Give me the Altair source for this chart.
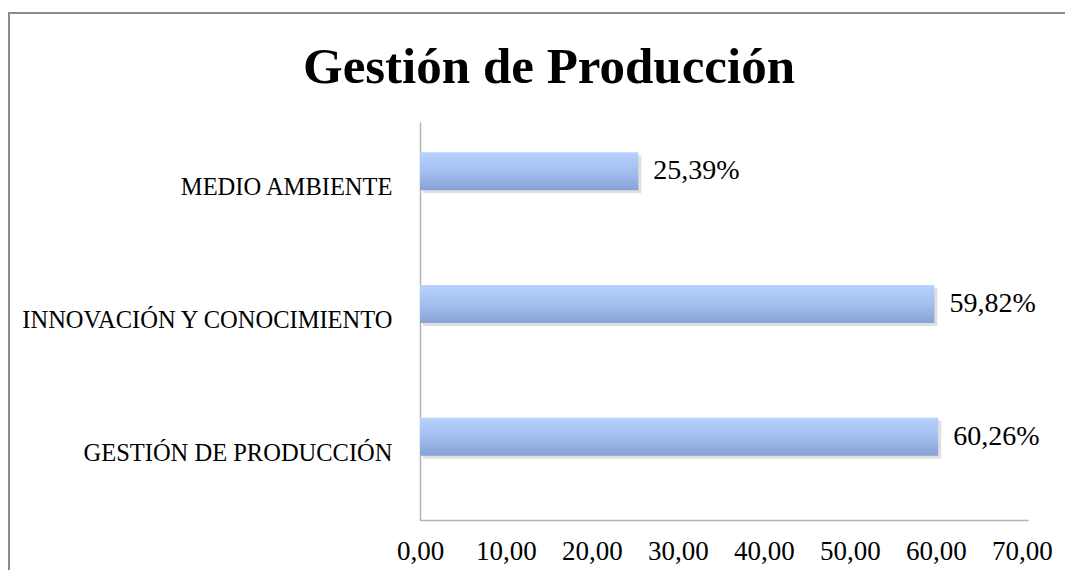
import altair as alt
import pandas as pd

categories = ["MEDIO AMBIENTE", "INNOVACIÓN Y CONOCIMIENTO", "GESTIÓN DE PRODUCCIÓN"]
values = [25.39, 59.82, 60.26]
x_ticks = [0, 10, 20, 30, 40, 50, 60, 70]
title_text = "Gestión de Producción"

df = pd.DataFrame({"cat": categories, "val": values})
title_df = pd.DataFrame({"t": [title_text]})
frame_df = pd.DataFrame({"k": [0]})

FONT = "Liberation Serif"
W, H = 608, 398
AXIS_COLOR = "#b3b3b3"

y_axis = alt.Axis(title=None, ticks=False, labelPadding=28, labelFontSize=24.5,
                  labelFont=FONT, labelColor="#000000", domainColor=AXIS_COLOR,
                  domainWidth=1.5, labelLimit=500, grid=False)
x_axis = alt.Axis(title=None, values=x_ticks, ticks=False, grid=False,
                  labelExpr="replace(format(datum.value, '.2f'), '.', ',')",
                  labelFontSize=27, labelFont=FONT, labelPadding=18,
                  labelColor="#000000", domainColor=AXIS_COLOR, domainWidth=1.5,
                  labelFlush=False)

x_enc = alt.X("val:Q", scale=alt.Scale(domain=[0, 70.7], nice=False, zero=True), axis=x_axis)
y_enc = alt.Y("cat:N", sort=categories, scale=alt.Scale(paddingInner=0, paddingOuter=0), axis=y_axis)

grad = alt.Gradient(
    gradient="linear",
    stops=[alt.GradientStop(color="#b8d2fd", offset=0),
           alt.GradientStop(color="#a3bff0", offset=0.5),
           alt.GradientStop(color="#87a2d5", offset=1)],
    x1=0, x2=0, y1=0, y2=1,
)

shadow = alt.Chart(df).mark_bar(color="#000000", opacity=0.12, height=38, yOffset=-14, xOffset=3).encode(
    x=x_enc, y=y_enc)
bars = alt.Chart(df).mark_bar(color=grad, height=38, yOffset=-17).encode(x=x_enc, y=y_enc)

labels = alt.Chart(df).transform_calculate(
    lbl="replace(format(datum.val, '.2f'), '.', ',') + '%'"
).mark_text(align="left", baseline="middle", dx=15, yOffset=-17, fontSize=28,
            font=FONT, color="#000000").encode(x=x_enc, y=y_enc, text="lbl:N")

title = alt.Chart(title_df).mark_text(
    fontSize=51, fontWeight="bold", font=FONT, align="center", baseline="middle", color="#000000"
).encode(x=alt.value(129), y=alt.value(-54), text="t:N")

frame = alt.Chart(frame_df).mark_rect(fill="transparent", stroke="#8c8c8c", strokeWidth=2).encode(
    x=alt.value(-411), x2=alt.value(800), y=alt.value(-109), y2=alt.value(800))

chart = alt.layer(frame, shadow, bars, labels, title).properties(
    width=W, height=H,
    autosize=alt.AutoSizeParams(type="none"),
    padding={"left": 412, "top": 114, "right": 37, "bottom": 50},
).configure(background="#ffffff").configure_view(strokeWidth=0, stroke="transparent")

chart.save("out.html", embed_options={"renderer": "svg", "actions": False})
